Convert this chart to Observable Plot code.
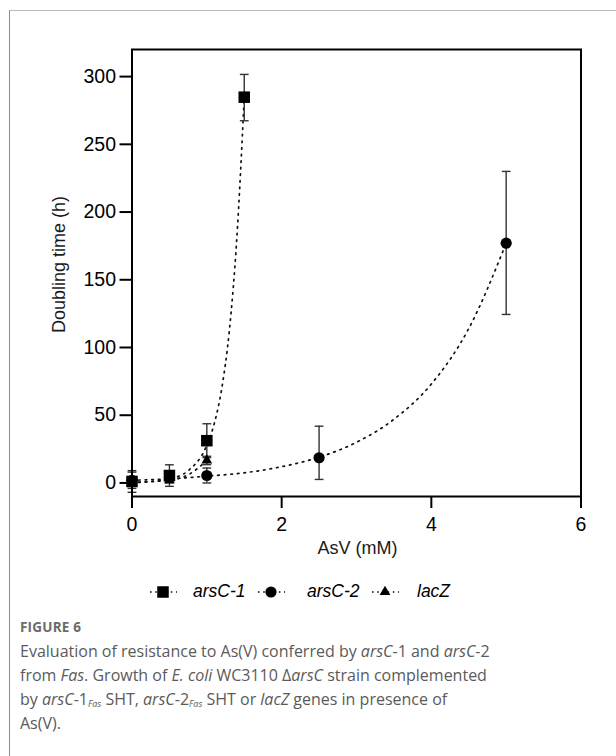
<!DOCTYPE html>
<html>
<head>
<meta charset="utf-8">
<script src="https://cdn.jsdelivr.net/npm/d3@7"></script>
<script src="https://cdn.jsdelivr.net/npm/@observablehq/plot@0.6"></script>
<style>
  html, body { margin: 0; padding: 0; background: #fff; }
  body { width: 616px; height: 756px; overflow: hidden; position: relative; font-family: "Liberation Sans", Arial, sans-serif; }
  #frame { position: absolute; left: 9px; top: 10px; width: 720px; height: 820px; border-top: 1px solid #bdbdbd; border-left: 1px solid #8a8a8a; }
  #chart { position: absolute; left: 0; top: 0; }
  #legend { position: absolute; left: 0; top: 580px; width: 616px; height: 24px; }
  .lg-sym { position: absolute; top: 3px; }
  .lg-txt { position: absolute; top: 1px; font-style: italic; font-size: 17.5px; color: #000; line-height: 20px; }
  #caption { position: absolute; left: 20px; top: 616px; width: 590px; font-family: "Open Sans", "Noto Sans", sans-serif; color: #5a5a5a; }
  #caption .fig { font-weight: 700; font-size: 13.5px; color: #6b6b6b; line-height: 22px; letter-spacing: 0.2px; }
  #caption .txt { font-size: 16px; line-height: 24px; margin-top: 1px; }
  #caption sub { font-size: 9px; vertical-align: -2px; line-height: 0; }
</style>
</head>
<body>
<div id="frame"></div>
<div id="chart"></div>
<div id="legend"></div>
<div id="caption">
  <div class="fig">FIGURE 6</div>
  <div class="txt">Evaluation of resistance to As(V) conferred by <i>arsC</i>-1 and <i>arsC</i>-2<br>from <i>Fas</i>. Growth of <i>E. coli</i> WC3110 Δ<i>arsC</i> strain complemented<br>by <i>arsC</i>-1<sub><i>Fas</i></sub> SHT, <i>arsC</i>-2<sub><i>Fas</i></sub> SHT or <i>lacZ</i> genes in presence of<br>As(V).</div>
</div>
<script>
// ---- Data ----
const seriesNames = ["arsC-1", "arsC-2", "lacZ"];

// arsC-1 (squares)
const ars1X = [0, 0.5, 1, 1.5];
const ars1Y = [1.1, 5.5, 31.2, 284.8];
const ars1Lo = [-6.9, -2.5, 18.7, 267.4];
const ars1Hi = [9.1, 13.4, 43.7, 301.6];

// arsC-2 (circles)
const ars2X = [0, 1, 2.5, 5];
const ars2Y = [2, 5.5, 18.6, 177];
const ars2Lo = [-4, 0, 2.6, 124.4];
const ars2Hi = [8, 11, 41.9, 230];

// lacZ (triangles)
const lacZX = [0, 0.5, 1];
const lacZY = [0.5, 2, 16.6];
const lacZLo = [-1.5, 0, 13.5];
const lacZHi = [2.5, 4, 19.7];

// dotted fitted curves
const fit1X = [0, 0.25, 0.5, 0.75, 1, 1.1, 1.2, 1.3, 1.4, 1.5];
const fit1Y = [0.3, 1, 3, 9, 28, 44, 70, 112, 180, 285];
const fit2X = [0, 0.5, 1, 1.5, 2, 2.5, 3, 3.5, 4, 4.5, 5];
const fit2Y = [2, 3, 5, 7.5, 12, 19, 30, 47, 73, 114, 177];
const fit3X = [0, 0.25, 0.5, 0.75, 1];
const fit3Y = [0.5, 1, 2, 6, 16.6];

// axis ticks and labels
const xTicks = [0, 2, 4, 6];
const yTicks = [0, 50, 100, 150, 200, 250, 300];
const xLabel = "AsV (mM)";
const yLabel = "Doubling time (h)";

// ---- Build tables ----
const points = [];
const addPts = (name, xs, ys, lo, hi) => xs.forEach((x, i) => points.push({series: name, x, y: ys[i], lo: lo[i], hi: hi[i]}));
addPts(seriesNames[0], ars1X, ars1Y, ars1Lo, ars1Hi);
addPts(seriesNames[1], ars2X, ars2Y, ars2Lo, ars2Hi);
addPts(seriesNames[2], lacZX, lacZY, lacZLo, lacZHi);

const fits = [];
const addFit = (name, xs, ys) => xs.forEach((x, i) => fits.push({series: name, x, y: ys[i]}));
addFit(seriesNames[0], fit1X, fit1Y);
addFit(seriesNames[1], fit2X, fit2Y);
addFit(seriesNames[2], fit3X, fit3Y);

const capSymbol = {
  draw(context, size) {
    const w = Math.sqrt(size / Math.PI);
    context.moveTo(-w, 0);
    context.lineTo(w, 0);
  }
};

const symbols = {"arsC-1": "square", "arsC-2": "circle", "lacZ": "triangle"};
const radii = {"arsC-1": 6.5, "arsC-2": 5.6, "lacZ": 4};

const dotMarks = seriesNames.slice().reverse().map(name =>
  Plot.dot(points.filter(d => d.series === name), {
    x: "x", y: "y", symbol: () => symbols[name], r: radii[name], fill: "black", stroke: "none"
  })
);

const chart = Plot.plot({
  width: 616,
  height: 570,
  marginLeft: 131.5,
  marginRight: 35.5,
  marginTop: 49,
  marginBottom: 74,
  style: { fontFamily: "'Liberation Sans', Arial, sans-serif", fontSize: "18px", color: "#000", background: "transparent", overflow: "visible" },
  x: { domain: [0, 6] },
  y: { domain: [-10, 320] },
  symbol: { type: "identity" },
  marks: [
    Plot.line(fits, { x: "x", y: "y", z: "series", stroke: "#111", strokeWidth: 1.7, strokeDasharray: "1.6,5", curve: "monotone-x" }),
    Plot.ruleX(points, { x: "x", y1: "lo", y2: "hi", stroke: "#333", strokeWidth: 1.4 }),
    Plot.dot(points, { x: "x", y: "hi", symbol: capSymbol, r: 4.4, fill: "none", stroke: "#333", strokeWidth: 1.4 }),
    Plot.dot(points, { x: "x", y: "lo", symbol: capSymbol, r: 4.4, fill: "none", stroke: "#333", strokeWidth: 1.4 }),
    ...dotMarks,
    Plot.frame({ stroke: "black", strokeWidth: 2 }),
    Plot.axisY({ ticks: yTicks, tickFormat: d3.format("d"), tickSize: 12, tickPadding: 4, strokeWidth: 2, fontSize: 19.5, label: null }),
    Plot.axisX({ ticks: xTicks, tickFormat: d3.format("d"), tickSize: 12, tickPadding: 9, strokeWidth: 2, fontSize: 19.5, label: null }),
    Plot.text([yLabel], { frameAnchor: "left", rotate: -90, dx: -73, dy: 60, fontSize: 18, fill: "#1a1a1a" }),
    Plot.text([xLabel], { frameAnchor: "bottom", dy: 57, dx: 1, fontSize: 18, fill: "#1a1a1a" })
  ]
});
document.getElementById("chart").appendChild(chart);

// ---- Legend ----
const legend = document.getElementById("legend");
const symLeft = [148, 256, 370];
const txtLeft = [193, 307, 417];
const ns = "http://www.w3.org/2000/svg";
seriesNames.forEach((name, i) => {
  const svg = document.createElementNS(ns, "svg");
  svg.setAttribute("width", 30); svg.setAttribute("height", 18);
  svg.setAttribute("class", "lg-sym");
  svg.style.left = symLeft[i] + "px";
  const line = document.createElementNS(ns, "line");
  line.setAttribute("x1", 2); line.setAttribute("x2", 29); line.setAttribute("y1", 9); line.setAttribute("y2", 9);
  line.setAttribute("stroke", "#111"); line.setAttribute("stroke-width", 1.6); line.setAttribute("stroke-dasharray", "1.6,3.6");
  svg.appendChild(line);
  const p = document.createElementNS(ns, "path");
  const r = radii[name];
  const sym = {square: d3.symbolSquare, circle: d3.symbolCircle, triangle: d3.symbolTriangle}[symbols[name]];
  p.setAttribute("d", d3.symbol(sym, Math.PI * r * r)());
  p.setAttribute("transform", "translate(15,9)");
  p.setAttribute("fill", "black");
  svg.appendChild(p);
  legend.appendChild(svg);
  const t = document.createElement("div");
  t.className = "lg-txt";
  t.style.left = txtLeft[i] + "px";
  t.textContent = name;
  legend.appendChild(t);
});
</script>
</body>
</html>
